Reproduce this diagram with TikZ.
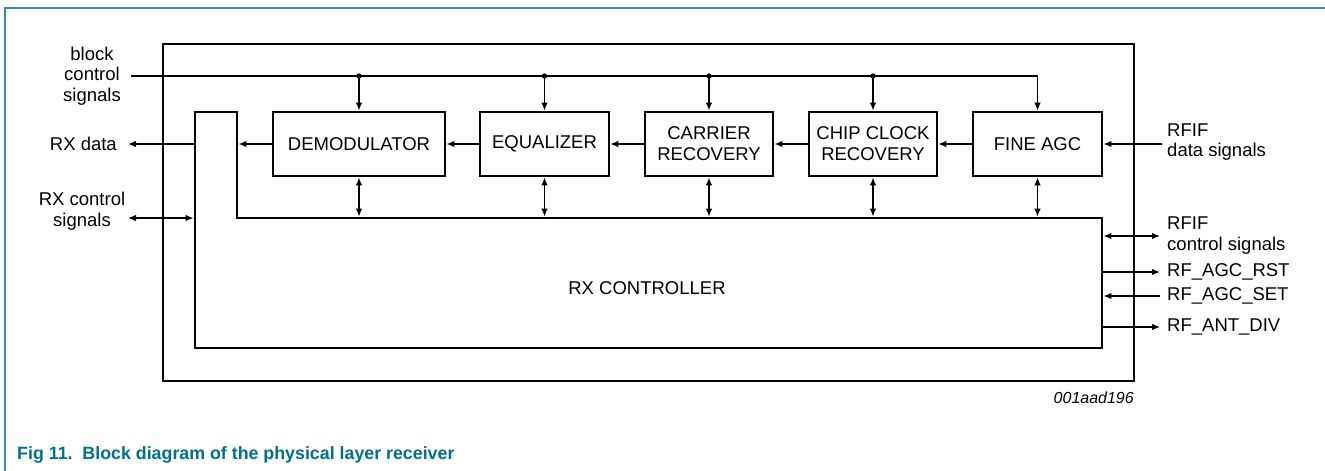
\documentclass[tikz,border=0pt]{standalone}
\usepackage{fontspec}
\setmainfont{Liberation Sans}
\usetikzlibrary{arrows.meta}
\definecolor{captionteal}{RGB}{0,112,140}
\definecolor{frameteal}{RGB}{45,145,175}
\tikzset{
  blk/.style={draw, line width=2.8pt, minimum height=64pt, inner sep=0pt, align=center,
    font=\fontsize{18.5}{21}\selectfont},
  conn/.style={line width=1.3pt},
  arr/.style={conn, -{Latex[length=8pt,width=6.5pt]}},
  darr/.style={conn, {Latex[length=8pt,width=6.5pt]}-{Latex[length=8pt,width=6.5pt]}},
  lbl/.style={inner sep=0pt, font=\fontsize{18.5}{20.5}\selectfont},
}

\begin{document}
\begin{tikzpicture}[x=1pt, y=-1pt]
        \useasboundingbox (0,0) rectangle (1325,471);
        % frame
        \draw[frameteal, line width=1.2pt] (5,471) -- (5,8) -- (1325,8);

        % receiver box
        \node[draw, line width=2.8pt, minimum width=971pt, minimum height=337pt, inner sep=0pt] (receiver) at (648.5,212.5) {};

        % blocks
        \node[blk, minimum width=172pt] (demod) at (359,144) {DEMODULATOR};
        \node[blk, minimum width=129pt] (equal) at (544.5,144) {EQUALIZER};
        \node[blk, minimum width=128pt] (carrier) at (709,144) {CARRIER\\RECOVERY};
        \node[blk, minimum width=128pt] (chipclk) at (873,144) {CHIP CLOCK\\RECOVERY};
        \node[blk, minimum width=129pt] (fineagc) at (1037.5,144) {FINE AGC};

        % rx controller
        \coordinate (ctl-a) at (195,112);
        \coordinate (ctl-b) at (237,112);
        \coordinate (ctl-top) at (237,218);
        \coordinate (ctl-ne) at (1102,218);
        \coordinate (ctl-se) at (1102,348);
        \coordinate (ctl-sw) at (195,348);
        \draw[line width=2.8pt, line join=miter] (ctl-a) -- (ctl-b) -- (ctl-top) -- (ctl-ne) -- (ctl-se) -- (ctl-sw) -- cycle;
        \node[lbl] (rxctl) at (647,288) {RX CONTROLLER};

        % block control bus
        \coordinate (busstart) at (131,76);
        \node[lbl, align=center] (bcs) at (92,76) {block\\control\\signals};
        \draw[arr] (busstart) -| (fineagc.north);
        \foreach \b in {demod,equal,carrier,chipclk} {
            \fill (\b.north |- busstart) circle (2.7pt);
            \draw[arr] (\b.north |- busstart) -- (\b.north);
        }
        \foreach \b in {demod,equal,carrier,chipclk,fineagc}
            \draw[darr, shorten >=1.4pt] (\b.south) -- (\b.south |- ctl-top);

        % data path
        \draw[arr] (fineagc.west) -- (chipclk.east);
        \draw[arr] (chipclk.west) -- (carrier.east);
        \draw[arr] (carrier.west) -- (equal.east);
        \draw[arr] (equal.west) -- (demod.east);
        \draw[arr, shorten >=1.4pt] (demod.west) -- (demod.west -| ctl-b);

        % left side
        \coordinate (rxd-out) at (128,144);
        \coordinate (rxc-out) at (128,218);
        \draw[arr] (demod.west -| ctl-a) -- (rxd-out);
        \draw[darr, shorten >=1.4pt] (rxc-out) -- (rxc-out -| ctl-a);
        \node[lbl, anchor=east] (rxdata) at (117,144) {RX data};
        \node[lbl, align=center] (rxcs) at (82,211) {RX control\\signals};

        % right side
        \coordinate (rfd-in) at (1162,144);
        \coordinate (rfc) at (1160,236);
        \coordinate (rst) at (1160,272);
        \coordinate (set) at (1160,296);
        \coordinate (ant) at (1160,327);
        \draw[arr] (rfd-in) -- (fineagc.east);
        \draw[darr, shorten <=1.4pt] (rfc -| ctl-ne) -- (rfc);
        \draw[arr] (rst -| ctl-ne) -- (rst);
        \draw[arr, shorten >=1.4pt] (set) -- (set -| ctl-ne);
        \draw[arr] (ant -| ctl-ne) -- (ant);
        \node[lbl, anchor=west, align=left] (rfifdata) at (1167,142) {RFIF\\data signals};
        \node[lbl, anchor=west, align=left] (rfifctl) at (1167,235.5) {RFIF\\control signals};
        \node[lbl, anchor=west] (agcrst) at (1167,272) {RF\_AGC\_RST};
        \node[lbl, anchor=west] (agcset) at (1167,296) {RF\_AGC\_SET};
        \node[lbl, anchor=west] (antdiv) at (1167,327) {RF\_ANT\_DIV};

        % figure id and caption
        \node[inner sep=0pt, anchor=east, font=\itshape\fontsize{16}{18}\selectfont] (figid) at (1134,398) {001aad196};
        \node[inner sep=0pt, anchor=west, text=captionteal, font=\bfseries\fontsize{17.8}{20}\selectfont] (caption) at (17,455) {Fig 11.\ \ Block diagram of the physical layer receiver};
\end{tikzpicture}
\end{document}
